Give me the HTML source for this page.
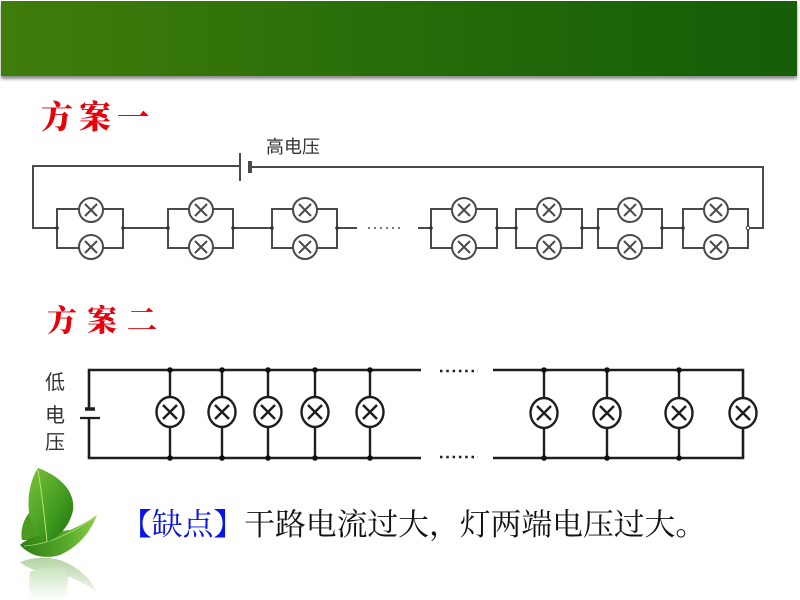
<!DOCTYPE html>
<html><head><meta charset="utf-8"><style>
html,body{margin:0;padding:0;width:800px;height:600px;overflow:hidden;background:#fff;}
.hdr{position:absolute;left:1px;top:1px;width:796px;height:75px;background:linear-gradient(90deg,#3f7c0b 0%,#2f720a 35%,#1f6708 65%,#165e07 100%);box-shadow:0 3px 3px rgba(0,0,0,0.45);}
.t{position:absolute;font-family:"Noto Serif CJK SC","Noto Sans CJK SC",serif;font-weight:900;color:#e8000a;white-space:nowrap;}
.lbl{position:absolute;font-family:"Liberation Sans","Noto Sans CJK SC",sans-serif;color:#333;white-space:nowrap;}
.txt{position:absolute;left:121px;top:508px;font-family:"Liberation Serif","Noto Serif CJK SC",serif;font-size:30.8px;line-height:34px;color:#111;white-space:nowrap;}
.txt span{color:#0a14e6;}
svg{position:absolute;left:0;top:0;}
</style></head><body>
<div class="hdr"></div>
<div class="t" style="left:41px;top:96px;font-size:32px;line-height:38px;letter-spacing:6px;">方案一</div>
<div class="t" style="left:47px;top:300px;font-size:30px;line-height:36px;letter-spacing:10px;">方案二</div>
<div class="lbl" style="left:266px;top:136px;font-size:18px;line-height:22px;">高电压</div>
<div class="lbl" style="left:45px;top:372px;font-size:20px;line-height:22px;">低</div>
<div class="lbl" style="left:45px;top:405px;font-size:20px;line-height:22px;">电</div>
<div class="lbl" style="left:45px;top:432px;font-size:20px;line-height:22px;">压</div>
<div class="txt"><span>【缺点】</span>干路电流过大，灯两端电压过大。</div>

<svg width="800" height="600" viewBox="0 0 800 600">
<defs>
<linearGradient id="lg1" x1="0" y1="0" x2="1" y2="1">
<stop offset="0" stop-color="#7cc23a"/><stop offset="0.6" stop-color="#3f9a1e"/><stop offset="1" stop-color="#1f6e10"/>
</linearGradient>
<linearGradient id="lg2" x1="0" y1="0" x2="1" y2="0">
<stop offset="0" stop-color="#2d7f14"/><stop offset="0.6" stop-color="#57a82a"/><stop offset="1" stop-color="#8fcf4a"/>
</linearGradient>
<linearGradient id="fade" x1="0" y1="0" x2="0" y2="1">
<stop offset="0" stop-color="#fff" stop-opacity="0.2"/><stop offset="1" stop-color="#fff" stop-opacity="1"/>
</linearGradient>
</defs>

<!-- Circuit 1 -->
<g stroke="#4a4a4a" stroke-width="2" fill="none">
<polyline points="240,166 33,166 33,228 57,228"/>
<line x1="240" y1="153" x2="240" y2="181"/>
<line x1="250" y1="161" x2="250" y2="173" stroke-width="4"/>
<polyline points="250,167 763,167 763,228 748,228"/>
<line x1="123" y1="228" x2="168" y2="228"/>
<line x1="233" y1="228" x2="272" y2="228"/>
<line x1="337" y1="228" x2="357" y2="228"/>
<line x1="418" y1="228" x2="431" y2="228"/>
<line x1="497" y1="228" x2="516" y2="228"/>
<line x1="582" y1="228" x2="598" y2="228"/>
<line x1="662" y1="228" x2="683" y2="228"/>
<line x1="368" y1="228" x2="404" y2="228" stroke-width="1.6" stroke-dasharray="2 4"/>
</g>
<g stroke="#4a4a4a" stroke-width="2">
<g transform="translate(57,0)"><rect x="0" y="209" width="66" height="39" fill="none"/><circle cx="34" cy="210" r="12" fill="#fff"/><circle cx="34" cy="247" r="12" fill="#fff"/><path d="M28,204 L40,216 M40,204 L28,216 M28,241 L40,253 M40,241 L28,253" fill="none"/><circle cx="0" cy="228" r="1.8" fill="#333" stroke="none"/><circle cx="66" cy="228" r="1.8" fill="#333" stroke="none"/></g>
<g transform="translate(168,0)"><rect x="0" y="209" width="65" height="39" fill="none"/><circle cx="33" cy="210" r="12" fill="#fff"/><circle cx="33" cy="247" r="12" fill="#fff"/><path d="M27,204 L39,216 M39,204 L27,216 M27,241 L39,253 M39,241 L27,253" fill="none"/><circle cx="0" cy="228" r="1.8" fill="#333" stroke="none"/><circle cx="65" cy="228" r="1.8" fill="#333" stroke="none"/></g>
<g transform="translate(272,0)"><rect x="0" y="209" width="65" height="39" fill="none"/><circle cx="33" cy="210" r="12" fill="#fff"/><circle cx="33" cy="247" r="12" fill="#fff"/><path d="M27,204 L39,216 M39,204 L27,216 M27,241 L39,253 M39,241 L27,253" fill="none"/><circle cx="0" cy="228" r="1.8" fill="#333" stroke="none"/><circle cx="65" cy="228" r="1.8" fill="#333" stroke="none"/></g>
<g transform="translate(431,0)"><rect x="0" y="209" width="66" height="39" fill="none"/><circle cx="33" cy="210" r="12" fill="#fff"/><circle cx="33" cy="247" r="12" fill="#fff"/><path d="M27,204 L39,216 M39,204 L27,216 M27,241 L39,253 M39,241 L27,253" fill="none"/><circle cx="0" cy="228" r="1.8" fill="#333" stroke="none"/><circle cx="66" cy="228" r="1.8" fill="#333" stroke="none"/></g>
<g transform="translate(516,0)"><rect x="0" y="209" width="66" height="39" fill="none"/><circle cx="33" cy="210" r="12" fill="#fff"/><circle cx="33" cy="247" r="12" fill="#fff"/><path d="M27,204 L39,216 M39,204 L27,216 M27,241 L39,253 M39,241 L27,253" fill="none"/><circle cx="0" cy="228" r="1.8" fill="#333" stroke="none"/><circle cx="66" cy="228" r="1.8" fill="#333" stroke="none"/></g>
<g transform="translate(598,0)"><rect x="0" y="209" width="64" height="39" fill="none"/><circle cx="32" cy="210" r="12" fill="#fff"/><circle cx="32" cy="247" r="12" fill="#fff"/><path d="M26,204 L38,216 M38,204 L26,216 M26,241 L38,253 M38,241 L26,253" fill="none"/><circle cx="0" cy="228" r="1.8" fill="#333" stroke="none"/><circle cx="64" cy="228" r="1.8" fill="#333" stroke="none"/></g>
<g transform="translate(683,0)"><rect x="0" y="209" width="65" height="39" fill="none"/><circle cx="33" cy="210" r="12" fill="#fff"/><circle cx="33" cy="247" r="12" fill="#fff"/><path d="M27,204 L39,216 M39,204 L27,216 M27,241 L39,253 M39,241 L27,253" fill="none"/><circle cx="0" cy="228" r="1.8" fill="#333" stroke="none"/><circle cx="65" cy="228" r="1.8" fill="#fff" stroke="#333" stroke-width="1"/></g>
</g>

<!-- Circuit 2 -->
<g stroke="#1e1e1e" stroke-width="2.6" fill="none">
<polyline points="421,370 89,370 89,409"/>
<polyline points="421,458 89,458 89,418"/>
<line x1="85" y1="409" x2="95" y2="409" stroke-width="3.5"/>
<line x1="80" y1="418" x2="100" y2="418" stroke-width="2.2"/>
<polyline points="493,370 743,370 743,458 493,458"/>
<line x1="440" y1="371" x2="478" y2="371" stroke-width="2.6" stroke-dasharray="2.5 3.8"/>
<line x1="440" y1="457" x2="478" y2="457" stroke-width="2.6" stroke-dasharray="2.5 3.8"/>
</g>
<g stroke="#1e1e1e" stroke-width="2.4">
<g transform="translate(170,0)"><line x1="0" y1="370" x2="0" y2="458"/><ellipse cx="0" cy="412" rx="13.5" ry="15" fill="#fff"/><path d="M-7,405 L7,419 M7,405 L-7,419" fill="none"/><circle cx="0" cy="370" r="2.8" fill="#111" stroke="none"/><circle cx="0" cy="458" r="2.8" fill="#111" stroke="none"/></g>
<g transform="translate(222,0)"><line x1="0" y1="370" x2="0" y2="458"/><ellipse cx="0" cy="412" rx="13.5" ry="15" fill="#fff"/><path d="M-7,405 L7,419 M7,405 L-7,419" fill="none"/><circle cx="0" cy="370" r="2.8" fill="#111" stroke="none"/><circle cx="0" cy="458" r="2.8" fill="#111" stroke="none"/></g>
<g transform="translate(268,0)"><line x1="0" y1="370" x2="0" y2="458"/><ellipse cx="0" cy="412" rx="13.5" ry="15" fill="#fff"/><path d="M-7,405 L7,419 M7,405 L-7,419" fill="none"/><circle cx="0" cy="370" r="2.8" fill="#111" stroke="none"/><circle cx="0" cy="458" r="2.8" fill="#111" stroke="none"/></g>
<g transform="translate(315,0)"><line x1="0" y1="370" x2="0" y2="458"/><ellipse cx="0" cy="412" rx="13.5" ry="15" fill="#fff"/><path d="M-7,405 L7,419 M7,405 L-7,419" fill="none"/><circle cx="0" cy="370" r="2.8" fill="#111" stroke="none"/><circle cx="0" cy="458" r="2.8" fill="#111" stroke="none"/></g>
<g transform="translate(370,0)"><line x1="0" y1="370" x2="0" y2="458"/><ellipse cx="0" cy="412" rx="13.5" ry="15" fill="#fff"/><path d="M-7,405 L7,419 M7,405 L-7,419" fill="none"/><circle cx="0" cy="370" r="2.8" fill="#111" stroke="none"/><circle cx="0" cy="458" r="2.8" fill="#111" stroke="none"/></g>
<g transform="translate(544,0)"><line x1="0" y1="370" x2="0" y2="458"/><ellipse cx="0" cy="413" rx="13.5" ry="15" fill="#fff"/><path d="M-7,406 L7,420 M7,406 L-7,420" fill="none"/><circle cx="0" cy="370" r="2.8" fill="#111" stroke="none"/><circle cx="0" cy="458" r="2.8" fill="#111" stroke="none"/></g>
<g transform="translate(607,0)"><line x1="0" y1="370" x2="0" y2="458"/><ellipse cx="0" cy="413" rx="13.5" ry="15" fill="#fff"/><path d="M-7,406 L7,420 M7,406 L-7,420" fill="none"/><circle cx="0" cy="370" r="2.8" fill="#111" stroke="none"/><circle cx="0" cy="458" r="2.8" fill="#111" stroke="none"/></g>
<g transform="translate(679,0)"><line x1="0" y1="370" x2="0" y2="458"/><ellipse cx="0" cy="413" rx="13.5" ry="15" fill="#fff"/><path d="M-7,406 L7,420 M7,406 L-7,420" fill="none"/><circle cx="0" cy="370" r="2.8" fill="#111" stroke="none"/><circle cx="0" cy="458" r="2.8" fill="#111" stroke="none"/></g>
<g transform="translate(743,0)"><ellipse cx="0" cy="413" rx="13.5" ry="15" fill="#fff"/><path d="M-7,406 L7,420 M7,406 L-7,420" fill="none"/></g>
</g>

<!-- Leaf -->
<g>
<path d="M22,540 C20,530 24,518 30,512 C34,522 40,532 46,540 Z" fill="#4d9a22"/>
<path d="M20,545 C30,535 55,532 70,530 C80,526 90,520 97,515 C92,528 82,545 60,555 C45,560 30,556 20,545 Z" fill="url(#lg2)"/>
<path d="M24,546 C45,545 70,535 95,517" stroke="#a8d870" stroke-width="0.8" fill="none"/>
<path d="M38,468 C30,480 26,500 30,518 C34,532 42,540 47,542 C58,538 70,526 73,510 C75,495 65,478 38,468 Z" fill="url(#lg1)"/>
<path d="M38,470 C42,495 45,520 47,542" stroke="#b9e07a" stroke-width="1" fill="none"/>
<g opacity="0.55">
<path d="M20,562 C30,572 55,575 70,577 C80,581 90,587 97,592 C92,582 82,568 60,560 C45,556 30,558 20,562 Z" fill="#4e9a2a"/>
<path d="M30,572 C28,585 30,595 34,600 L62,600 C68,590 70,580 66,570 C58,566 45,566 30,572 Z" fill="#5fae35"/>
</g>
<rect x="10" y="556" width="100" height="44" fill="url(#fade)"/>
</g>
</svg>
</body></html>
